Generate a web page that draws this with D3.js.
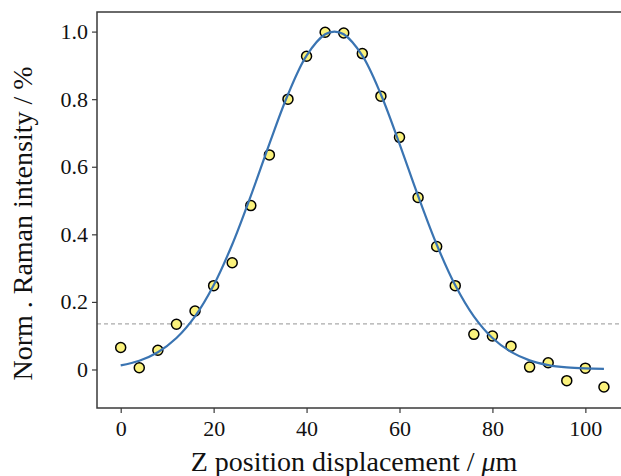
<!DOCTYPE html>
<html>
<head>
<meta charset="utf-8">
<script src="https://cdn.jsdelivr.net/npm/d3@7"></script>
<style>
  html, body { margin: 0; padding: 0; background: #fff; }
  svg { display: block; }
</style>
</head>
<body>
<svg id="chart" width="621" height="476"></svg>
<script>
// Measured Z positions (µm)
const zPositions = [0, 4, 8, 12, 16, 20, 24, 28, 32, 36, 40, 44, 48, 52, 56, 60, 64, 68, 72, 76, 80, 84, 88, 92, 96, 100, 104];
// Normalised Raman intensity (measured points)
const intensities = [0.065, 0.005, 0.057, 0.134, 0.173, 0.248, 0.316, 0.485, 0.635, 0.800, 0.927, 0.998, 0.996, 0.935, 0.809, 0.687, 0.509, 0.364, 0.248, 0.104, 0.099, 0.069, 0.007, 0.020, -0.033, 0.004, -0.052];
// Fitted curve
const fitZ = [0, 4, 8, 12, 16, 20, 24, 28, 32, 36, 40, 44, 46, 48, 52, 56, 60, 64, 68, 72, 76, 80, 84, 88, 92, 96, 100, 104];
const fitValues = [0.012, 0.026, 0.051, 0.093, 0.157, 0.249, 0.370, 0.514, 0.668, 0.814, 0.929, 0.992, 1.0, 0.992, 0.929, 0.814, 0.668, 0.514, 0.370, 0.249, 0.157, 0.093, 0.052, 0.027, 0.013, 0.006, 0.003, 0.002];
// Threshold line (1/e^2)
const thresholdValue = [0.135];
const xTicks = [0, 20, 40, 60, 80, 100];
const yTicks = [0, 0.2, 0.4, 0.6, 0.8, 1.0];
const xTitle = "Z position displacement / ";
const yTitle = "Norm . Raman intensity / %";

const svg = d3.select("#chart");
const mLeft = 97, mRight = 623, mTop = 12, mBottom = 408;
const x = d3.scaleLinear().domain([-5.1, 108.1]).range([mLeft, mRight]);
const y = d3.scaleLinear().domain([-0.114, 1.058]).range([mBottom, mTop]);

const fontFam = "'Liberation Serif', 'Times New Roman', serif";
const spineColor = "#3a3a3a";

// Threshold dashed line
svg.selectAll("line.thr").data(thresholdValue).enter().append("line")
  .attr("class", "thr")
  .attr("x1", mLeft).attr("x2", mRight)
  .attr("y1", d => y(d)).attr("y2", d => y(d))
  .attr("stroke", "#aaaaaa").attr("stroke-width", 1.2)
  .attr("stroke-dasharray", "4,3");

// Axes
const xAxis = d3.axisBottom(x).tickValues(xTicks).tickSize(5).tickPadding(6).tickFormat(d3.format("d"));
const yAxis = d3.axisLeft(y).tickValues(yTicks).tickSize(5).tickPadding(4)
  .tickFormat(d => d === 0 ? "0" : d.toFixed(1));

const gx = svg.append("g").attr("transform", `translate(0,${mBottom})`).call(xAxis);
const gy = svg.append("g").attr("transform", `translate(${mLeft},0)`).call(yAxis);
[gx, gy].forEach(g => {
  g.select(".domain").remove();
  g.selectAll(".tick line").attr("stroke", spineColor).attr("stroke-width", 1.2);
  g.selectAll(".tick text").attr("fill", "#111").style("font-family", fontFam).style("font-size", "22px");
});
gx.selectAll(".tick text").attr("dy", "0.78em");

// Spines
svg.append("rect")
  .attr("x", mLeft).attr("y", mTop)
  .attr("width", mRight - mLeft).attr("height", mBottom - mTop)
  .attr("fill", "none").attr("stroke", spineColor).attr("stroke-width", 1.5);

// Points
const pts = zPositions.map((z, i) => ({ z, v: intensities[i] }));
svg.append("g").selectAll("circle").data(pts).enter().append("circle")
  .attr("cx", d => x(d.z)).attr("cy", d => y(d.v)).attr("r", 5)
  .attr("fill", "#fbf27c").attr("stroke", "#000").attr("stroke-width", 1.5);

// Fit curve
const fit = fitZ.map((z, i) => ({ z, v: fitValues[i] }));
svg.append("path").datum(fit)
  .attr("d", d3.line().x(d => x(d.z)).y(d => y(d.v)).curve(d3.curveCatmullRom.alpha(0.5)))
  .attr("fill", "none").attr("stroke", "#3a74b2").attr("stroke-width", 2.2);

// Axis titles
const xt = svg.append("text")
  .attr("x", (187 + 521) / 2).attr("y", 471)
  .attr("text-anchor", "middle")
  .style("font-family", fontFam).style("font-size", "28px").attr("fill", "#111");
xt.append("tspan").text(xTitle);
xt.append("tspan").style("font-style", "italic").text("μ");
xt.append("tspan").text("m");

svg.append("text")
  .attr("transform", `translate(31.5,${(62 + 385) / 2}) rotate(-90)`)
  .attr("text-anchor", "middle")
  .style("font-family", fontFam).style("font-size", "28px").attr("fill", "#111")
  .text(yTitle);
</script>
</body>
</html>
